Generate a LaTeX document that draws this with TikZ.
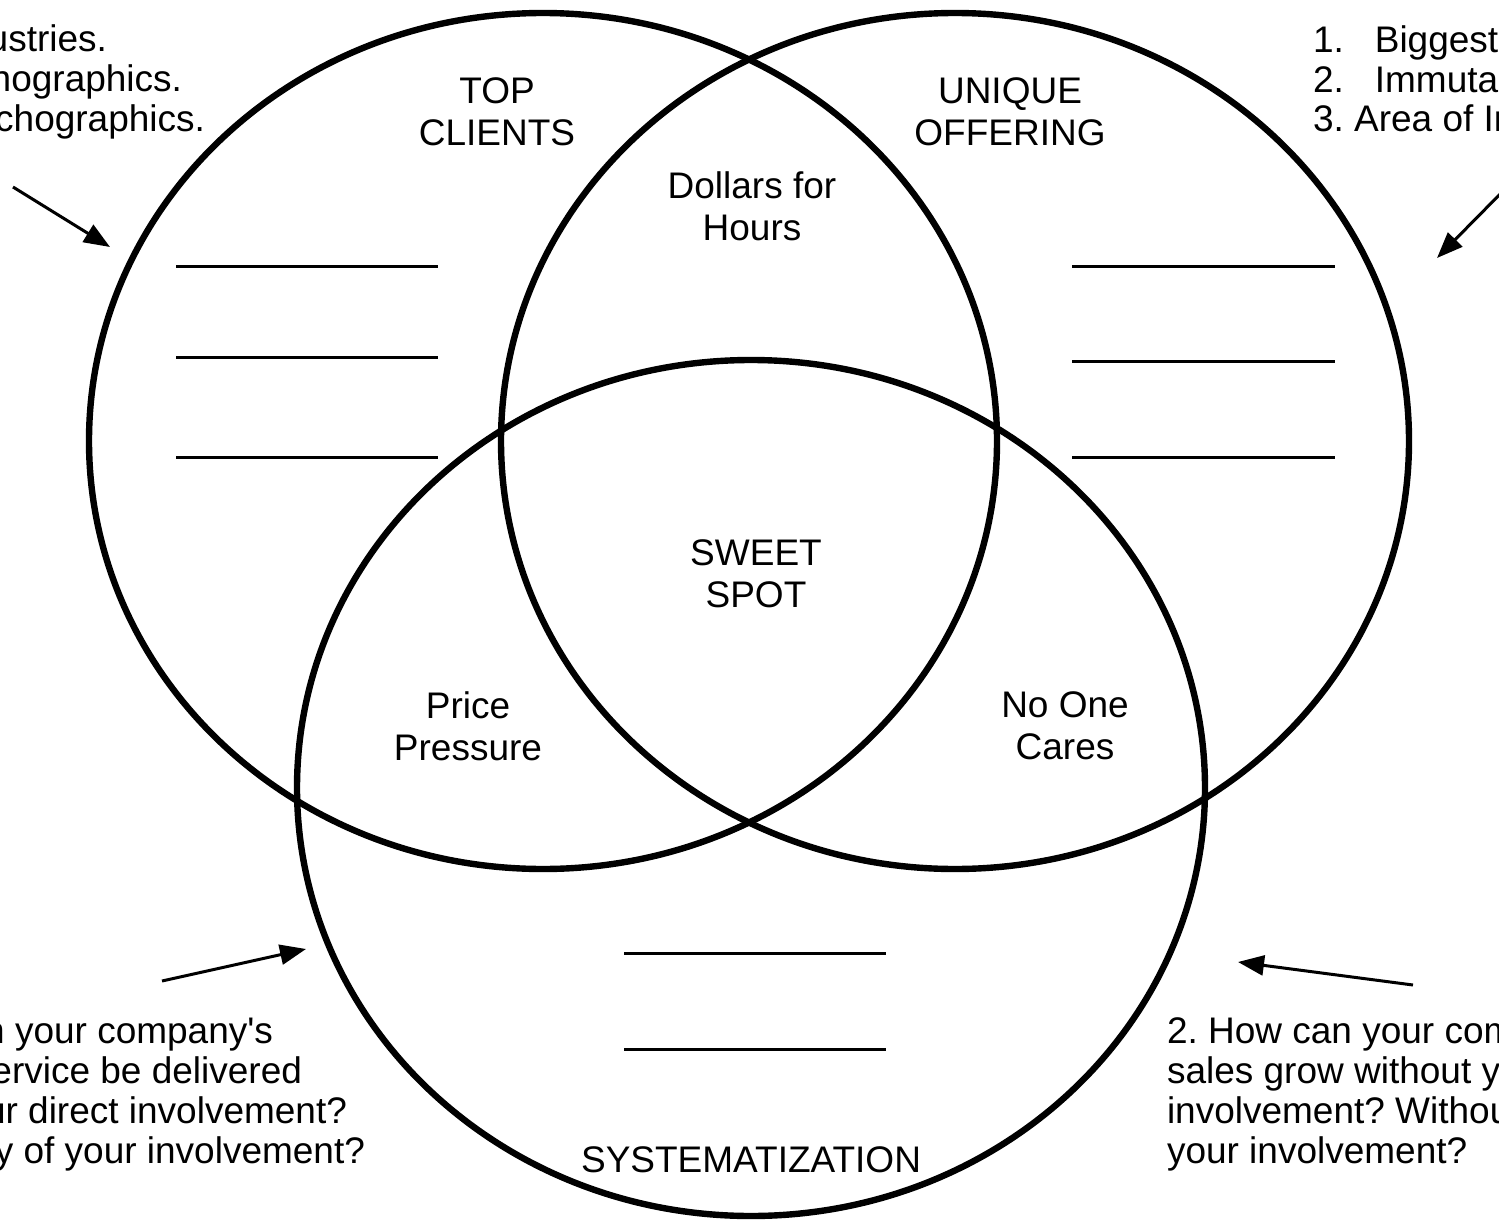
\documentclass[tikz,border=0pt]{standalone}
\usepackage{fontspec}
\setmainfont{Liberation Sans}
\usetikzlibrary{arrows.meta}
\tikzstyle{every picture}+=[x=0.5pt,y=-0.5pt]
\tikzstyle{every picture}+=[>={Triangle[length=13pt,width=10pt]}]
\tikzstyle{every picture}+=[line join=round]
\tikzstyle{every node}+=[inner sep=0pt,outer sep=0pt]
\tikzstyle{set}=[line width=3.2pt]
\tikzstyle{setname}=[align=center,font=\fontsize{18.5}{21}\selectfont]
\tikzstyle{note}=[font=\fontsize{18.5}{20}\selectfont]
\tikzstyle{blank}=[line width=1.5pt]
\tikzstyle{pointer}=[->,line width=1.5pt]

\begin{document}
\frenchspacing
\begin{tikzpicture}
\useasboundingbox (0,0) rectangle (1499,1220);
\clip (0,0) rectangle (1499,1220);

% the three sets
\draw[set] (543,441) ellipse (454 and 428);
\draw[set] (955,441) ellipse (454 and 428);
\draw[set] (751,788) ellipse (454 and 428);

% names of the sets and overlaps
\node[setname] (clients) at (497,112) {TOP\\CLIENTS};
\node[setname] (offering) at (1010,112) {UNIQUE\\OFFERING};
\node[setname] (dollars) at (752,206) {Dollars for\\Hours};
\node[setname] (sweet) at (756,574) {SWEET\\SPOT};
\node[setname] (price) at (468,726) {Price\\Pressure};
\node[setname] (nocare) at (1065,726) {No One\\Cares};
\node[setname] (system) at (751,1160) {SYSTEMATIZATION};

% lines to fill in
\foreach \y in {266,357,457}
  \draw[blank] (176,\y) -- (438,\y);
\foreach \y in {266,361,457}
  \draw[blank] (1072,\y) -- (1335,\y);
\foreach \y in {953,1049}
  \draw[blank] (624,\y) -- (886,\y);

% notes, cut by the page edge
\node[note, anchor=base east] (tl1) at (107,52) {ustries.};
\node[note, anchor=base east] (tl2) at (182,92) {nographics.};
\node[note, anchor=base east] (tl3) at (205,132) {chographics.};

\node[note, anchor=base west] (tr1) at (1313,53) {1.\hspace{15.5pt}Biggest};
\node[note, anchor=base west] (tr2) at (1313,93) {2.\hspace{15.5pt}Immutab};
\node[note, anchor=base west] (tr3) at (1313,132) {3. Area of In};

\node[note, anchor=base east] (bl1) at (273,1043) {n your company\textquotesingle s};
\node[note, anchor=base east] (bl2) at (302,1083) {ervice be delivered};
\node[note, anchor=base east] (bl3) at (347,1123) {ur direct involvement?};
\node[note, anchor=base east] (bl4) at (365,1163) {y of your involvement?};

\node[note, anchor=base west] (br1) at (1167,1043) {2. How can your com};
\node[note, anchor=base west] (br2) at (1167,1083) {sales grow without y};
\node[note, anchor=base west] (br3) at (1167,1123) {involvement? Withou};
\node[note, anchor=base west] (br4) at (1167,1163) {your involvement?};

% pointers
\coordinate (tl tail) at (13,187);
\coordinate (tl tip) at (110,247);
\coordinate (tr tail) at (1512,182);
\coordinate (tr tip) at (1437,258);
\coordinate (bl tail) at (162,981);
\coordinate (bl tip) at (306,949);
\coordinate (br tail) at (1413,985);
\coordinate (br tip) at (1238,962);

\path[pointer]
   (tl tail) edge (tl tip)
   (tr tail) edge (tr tip)
   (bl tail) edge (bl tip)
   (br tail) edge (br tip)
;
\end{tikzpicture}
\end{document}
